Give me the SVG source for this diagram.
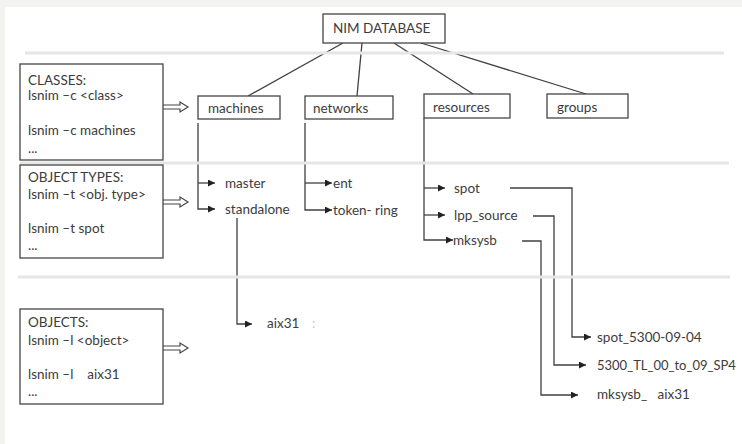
<svg xmlns="http://www.w3.org/2000/svg" width="742" height="444" viewBox="0 0 742 444">
<defs>
<style>
text{font-family:"Lato","Open Sans","Liberation Sans",sans-serif;font-size:13.5px;fill:#3c3c3c}
.box{fill:#fff;stroke:#454545;stroke-width:1.3}
.ln{fill:none;stroke:#404040;stroke-width:1.3}
.sep{stroke:#e6e6e6;stroke-width:3}
.ha{fill:#fff;stroke:#454545;stroke-width:1.2}
</style>
<marker id="ah" viewBox="0 0 10 10" refX="10" refY="5" markerWidth="7" markerHeight="7" markerUnits="userSpaceOnUse" orient="auto">
<path d="M0,0 L10,5 L0,10 z" fill="#222"/>
</marker>
</defs>
<rect width="742" height="444" fill="#fff"/>
<rect width="742" height="7" fill="#f3f3f1"/>
<rect width="5" height="444" fill="#f3f3f1"/>

<g id="connectors">
<path class="ln" d="M343,43 L248,96"/>
<path class="ln" d="M362,43 L357,96"/>
<path class="ln" d="M394,43 L473,94"/>
<path class="ln" d="M421,43 L586,94"/>
<path class="ln" d="M198,123 V209 H215" marker-end="url(#ah)"/>
<path class="ln" d="M198,183 H215" marker-end="url(#ah)"/>
<path class="ln" d="M305,123 V210 H332" marker-end="url(#ah)"/>
<path class="ln" d="M305,183 H332" marker-end="url(#ah)"/>
<path class="ln" d="M237,218 V324 H252" marker-end="url(#ah)"/>
<path class="ln" d="M424,118 V240 H453" marker-end="url(#ah)"/>
<path class="ln" d="M424,188 H445" marker-end="url(#ah)"/>
<path class="ln" d="M424,215 H445" marker-end="url(#ah)"/>
<path class="ln" d="M510,188 H572 V337 H591" marker-end="url(#ah)"/>
<path class="ln" d="M533,216 H554 V365 H586" marker-end="url(#ah)"/>
<path class="ln" d="M522,241 H541 V395 H578" marker-end="url(#ah)"/>
<path class="ha" d="M163,105 H180 V102 L188,107 L180,112 V109 H163"/>
<path class="ha" d="M163,200 H180 V197 L188,202 L180,207 V204 H163"/>
<path class="ha" d="M163,346 H180 V343 L188,348 L180,353 V350 H163"/>
</g>

<g id="separators">
<line class="sep" x1="25" y1="53" x2="724" y2="53"/>
<line class="sep" x1="20" y1="163" x2="729" y2="163"/>
<line class="sep" x1="18" y1="277" x2="730" y2="277"/>
</g>

<g id="nim-database">
<rect class="box" x="323" y="14" width="122" height="29"/>
<text x="333" y="33">NIM DATABASE</text>
</g>
<g id="classes">
<rect class="box" x="20" y="64" width="143" height="96"/>
<text x="28" y="85">CLASSES:</text>
<text x="28" y="100">lsnim –c &lt;class&gt;</text>
<text x="28" y="135">lsnim –c machines</text>
<text x="28" y="153">...</text>
</g>
<g id="object-types">
<rect class="box" x="20" y="165" width="143" height="93"/>
<text x="28" y="182">OBJECT TYPES:</text>
<text x="28" y="199">lsnim –t &lt;obj. type&gt;</text>
<text x="28" y="233">lsnim –t spot</text>
<text x="28" y="250">...</text>
</g>
<g id="objects">
<rect class="box" x="20" y="309" width="143" height="95"/>
<text x="28" y="327">OBJECTS:</text>
<text x="28" y="345">lsnim –l &lt;object&gt;</text>
<text x="28" y="379" xml:space="preserve">lsnim –l    aix31</text>
<text x="28" y="396">...</text>
</g>
<g id="machines">
<rect class="box" x="198" y="96" width="82" height="23"/>
<text x="208" y="113">machines</text>
</g>
<g id="networks">
<rect class="box" x="305" y="96" width="88" height="23"/>
<text x="313" y="113">networks</text>
</g>
<g id="resources">
<rect class="box" x="424" y="94" width="86" height="24"/>
<text x="433" y="112">resources</text>
</g>
<g id="groups">
<rect class="box" x="547" y="94" width="81" height="24"/>
<text x="557" y="112">groups</text>
</g>
<g id="master"><text x="225" y="188">master</text></g>
<g id="standalone"><text x="225" y="214">standalone</text></g>
<g id="ent"><text x="333" y="188">ent</text></g>
<g id="token-ring"><text x="333" y="215">token- ring</text></g>
<g id="aix31"><text x="267" y="328">aix31</text><text x="312" y="328" style="fill:#c8c8c8">:</text></g>
<g id="spot"><text x="454" y="193">spot</text></g>
<g id="lpp_source"><text x="454" y="220">lpp_source</text></g>
<g id="mksysb"><text x="453" y="245">mksysb</text></g>
<g id="spot_5300"><text x="597" y="342">spot_5300-09-04</text></g>
<g id="tl"><text x="597" y="370" style="font-size:13px">5300_TL_00_to_09_SP4</text></g>
<g id="mksysb_aix31"><text x="597" y="399" xml:space="preserve">mksysb_   aix31</text></g>
</svg>
